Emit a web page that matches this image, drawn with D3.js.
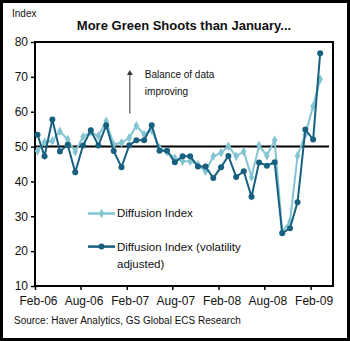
<!DOCTYPE html>
<html>
<head>
<meta charset="utf-8">
<script src="https://cdn.jsdelivr.net/npm/d3@7"></script>
<style>
  body { margin: 0; background: #fff; }
  svg text { font-family: "Liberation Sans", Arial, sans-serif; fill: #111; }
</style>
</head>
<body>
<div id="chart"></div>
<script>
// months of the series, Feb-06 .. Mar-09
var months = d3.timeMonth.range(new Date(2006, 1, 1), new Date(2009, 3, 1));

var diffusion = [48.7, 51.3, 51.6, 54.4, 52, 48.5, 52.8, 54.2, 53, 57.3,
    50.6, 51.1, 52.5, 56, 53.5, 54.7, 49.6, 48.5, 46.7, 45.8,
    45.8, 44.8, 42.9, 47.2, 48.2, 50.1, 47.2, 48.6, 41.3, 50.3,
    47.4, 51.8, 25.6, 28.5, 47.4, 53.5, 61.6, 69.3];

var diffusionAdj = [53.4, 47.2, 57.8, 48.6, 50.5, 42.6, 50.3, 54.7, 50.3, 56.1,
    48.7, 44.1, 50.4, 51.8, 51.8, 56.1, 48.8, 48.8, 45.5, 47.2,
    47.2, 44.3, 44.3, 41, 44.1, 47.3, 41.3, 42.9, 35.6, 45.4,
    44.5, 45.5, 25.1, 26.6, 34, 54.9, 52, 76.8];

var xTickLabels = ["Feb-06", "Aug-06", "Feb-07", "Aug-07", "Feb-08", "Aug-08", "Feb-09"];
var yTicks = [10, 20, 30, 40, 50, 60, 70, 80];

var lightColor = "#83c4d2",
    darkColor = "#17607f";

var W = 350, H = 341;
var margin = { top: 42, right: 17, bottom: 55, left: 35 },
    width = W - margin.left - margin.right,
    height = H - margin.top - margin.bottom;

var svg = d3.select("#chart").append("svg")
    .attr("width", W)
    .attr("height", H);

// outer frame
svg.append("rect")
    .attr("x", 1.5).attr("y", 1.5)
    .attr("width", W - 3).attr("height", H - 3)
    .attr("fill", "#fff")
    .attr("stroke", "#000")
    .attr("stroke-width", 3);

svg.append("text")
    .attr("x", 12).attr("y", 17)
    .style("font-size", "10px")
    .text("Index");

svg.append("text")
    .attr("x", 184).attr("y", 30)
    .attr("text-anchor", "middle")
    .style("font-size", "13px")
    .style("font-weight", "bold")
    .text("More Green Shoots than January...");

var g = svg.append("g")
    .attr("transform", "translate(" + margin.left + "," + margin.top + ")");

var parseLabel = d3.timeParse("%b-%y");

var x = d3.scaleTime()
    .domain([new Date(2006, 1, 1), new Date(2009, 4, 1)])
    .range([0, width]);

var y = d3.scaleLinear()
    .domain([10, 80])
    .range([height, 0]);

// points sit a little inside each month
function px(i) { return x(d3.timeDay.offset(months[i], 10)); }

// plot frame
g.append("rect")
    .attr("width", width).attr("height", height)
    .attr("fill", "none")
    .attr("stroke", "#000")
    .attr("stroke-width", 2);

// 50 line
g.append("line")
    .attr("x1", 0).attr("x2", width - 4)
    .attr("y1", y(50)).attr("y2", y(50))
    .attr("stroke", "#000")
    .attr("stroke-width", 2);

// y axis
var yAxis = g.append("g")
    .call(d3.axisLeft(y).tickValues(yTicks).tickSize(4).tickPadding(3));
yAxis.select(".domain").remove();
yAxis.selectAll("line").attr("stroke", "#000").attr("stroke-width", 1.5);
yAxis.selectAll("text").style("font-size", "12px").attr("fill", "#222");

// x axis
var xAxis = g.append("g")
    .attr("transform", "translate(0," + height + ")")
    .call(d3.axisBottom(x)
        .tickValues(xTickLabels.map(parseLabel))
        .tickFormat(d3.timeFormat("%b-%y"))
        .tickSize(4).tickPadding(6));
xAxis.select(".domain").remove();
xAxis.selectAll("line").attr("stroke", "#000").attr("stroke-width", 1.5);
xAxis.selectAll("text").style("font-size", "12px").attr("dx", 3).attr("fill", "#222");

// annotation
var arrowX = x(parseLabel("Mar-07")) - 4;
g.append("line")
    .attr("x1", arrowX).attr("x2", arrowX)
    .attr("y1", y(59.5)).attr("y2", y(70.5))
    .attr("stroke", "#333").attr("stroke-width", 1);
g.append("path")
    .attr("d", d3.symbol().type(d3.symbolTriangle).size(14))
    .attr("transform", "translate(" + arrowX + "," + y(71) + ")")
    .attr("fill", "#333");
g.append("text")
    .attr("x", arrowX + 15)
    .attr("y", y(69.8))
    .style("font-size", "10px")
    .text("Balance of data");
g.append("text")
    .attr("x", arrowX + 15)
    .attr("y", y(64.9))
    .style("font-size", "10px")
    .text("improving");

var line = d3.line()
    .x(function(d, i) { return px(i); })
    .y(function(d) { return y(d); });

// light series
g.append("path")
    .datum(diffusion)
    .attr("fill", "none")
    .attr("stroke", lightColor)
    .attr("stroke-width", 2)
    .attr("d", line);
g.selectAll(".pt-light")
    .data(diffusion)
    .enter().append("path")
    .attr("class", "pt-light")
    .attr("d", d3.symbol().type(d3.symbolDiamond).size(26))
    .attr("transform", function(d, i) { return "translate(" + px(i) + "," + y(d) + ")"; })
    .attr("fill", lightColor);

// dark series
g.append("path")
    .datum(diffusionAdj)
    .attr("fill", "none")
    .attr("stroke", darkColor)
    .attr("stroke-width", 2)
    .attr("d", line);
g.selectAll(".pt-dark")
    .data(diffusionAdj)
    .enter().append("circle")
    .attr("class", "pt-dark")
    .attr("cx", function(d, i) { return px(i); })
    .attr("cy", function(d) { return y(d); })
    .attr("r", 3)
    .attr("fill", darkColor);

// legend
var legend = [
    { label: ["Diffusion Index"], color: lightColor, shape: "diamond", yv: 30.8 },
    { label: ["Diffusion Index (volatility", "adjusted)"], color: darkColor, shape: "circle", yv: 21.3 }
];
legend.forEach(function(l) {
    var ly = y(l.yv);
    g.append("line")
        .attr("x1", 53).attr("x2", 80)
        .attr("y1", ly).attr("y2", ly)
        .attr("stroke", l.color).attr("stroke-width", 2.5);
    if (l.shape === "diamond") {
        g.append("path")
            .attr("d", d3.symbol().type(d3.symbolDiamond).size(26))
            .attr("transform", "translate(66.5," + ly + ")")
            .attr("fill", l.color);
    } else {
        g.append("circle").attr("cx", 66.5).attr("cy", ly).attr("r", 3).attr("fill", l.color);
    }
    l.label.forEach(function(t, k) {
        g.append("text")
            .attr("x", 82)
            .attr("y", ly + 4 + k * 17)
            .style("font-size", "11.5px")
            .attr("fill", "#222")
            .text(t);
    });
});

svg.append("text")
    .attr("x", 14).attr("y", 324)
    .style("font-size", "10px")
    .attr("fill", "#222")
    .text("Source: Haver Analytics, GS Global ECS Research");
</script>
</body>
</html>
